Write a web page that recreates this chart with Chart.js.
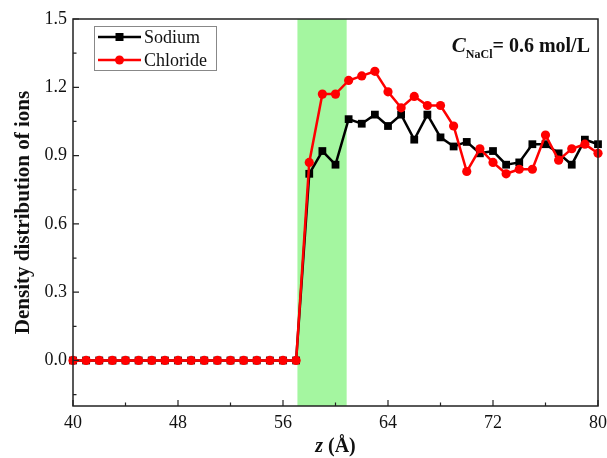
<!DOCTYPE html>
<html>
<head>
<meta charset="utf-8">
<script src="https://cdn.jsdelivr.net/npm/chart.js@4.4.1/dist/chart.umd.min.js"></script>
<style>
  html, body { margin: 0; padding: 0; background: #fff; }
  #wrap { width: 607px; height: 458px; }
</style>
</head>
<body>
<div id="wrap"><canvas id="chart"></canvas></div>
<script>
// z positions (Å)
const zValues = [40, 41, 42, 43, 44, 45, 46, 47, 48, 49, 50, 51, 52, 53, 54, 55, 56, 57,
                 58, 59, 60, 61, 62, 63, 64, 65, 66, 67, 68, 69, 70, 71, 72, 73, 74, 75, 76, 77, 78, 79, 80];

// density
const sodium = [0, 0, 0, 0, 0, 0, 0, 0, 0, 0, 0, 0, 0, 0, 0, 0, 0, 0,
                0.82, 0.92, 0.86, 1.06, 1.04, 1.08, 1.03, 1.08, 0.97, 1.08, 0.98, 0.94,
                0.96, 0.91, 0.92, 0.86, 0.87, 0.95, 0.95, 0.91, 0.86, 0.97, 0.95];
const chloride = [0, 0, 0, 0, 0, 0, 0, 0, 0, 0, 0, 0, 0, 0, 0, 0, 0, 0,
                  0.87, 1.17, 1.17, 1.23, 1.25, 1.27, 1.18, 1.11, 1.16, 1.12, 1.12, 1.03,
                  0.83, 0.93, 0.87, 0.82, 0.84, 0.84, 0.99, 0.88, 0.93, 0.95, 0.91];

// shaded region
const band = [57.1, 60.85];

// axis ticks
const xTicks = [40, 48, 56, 64, 72, 80];
const xMinor = [44, 52, 60, 68, 76];
const yTicks = [0, 0.3, 0.6, 0.9, 1.2, 1.5];
const yMinor = [-0.15, 0.15, 0.45, 0.75, 1.05, 1.35];

const SERIF = '"Liberation Serif", "Times New Roman", serif';

const toPoints = arr => arr.map((v, i) => ({ x: zValues[i], y: v }));

// green band behind the lines
const bandPlugin = {
    id: 'band',
    beforeDatasetsDraw(chart) {
        const { ctx, chartArea, scales } = chart;
        const x0 = scales.x.getPixelForValue(band[0]);
        const x1 = scales.x.getPixelForValue(band[1]);
        ctx.save();
        ctx.fillStyle = '#a4f6a0';
        ctx.fillRect(x0, chartArea.top, x1 - x0, chartArea.bottom - chartArea.top);
        ctx.restore();
    }
};

// frame, inward ticks, legend, annotation, x title
const decorPlugin = {
    id: 'decor',
    afterDraw(chart) {
        const { ctx, chartArea, scales } = chart;
        const { left, right, top, bottom } = chartArea;
        ctx.save();

        // frame
        ctx.strokeStyle = '#222';
        ctx.lineWidth = 1.5;
        ctx.strokeRect(left, top, right - left, bottom - top);

        // inward ticks
        ctx.lineWidth = 1.2;
        ctx.beginPath();
        xTicks.forEach(v => { const p = scales.x.getPixelForValue(v); ctx.moveTo(p, bottom); ctx.lineTo(p, bottom - 6); });
        xMinor.forEach(v => { const p = scales.x.getPixelForValue(v); ctx.moveTo(p, bottom); ctx.lineTo(p, bottom - 3.5); });
        yTicks.forEach(v => { const p = scales.y.getPixelForValue(v); ctx.moveTo(left, p); ctx.lineTo(left + 6, p); });
        yMinor.forEach(v => { const p = scales.y.getPixelForValue(v); ctx.moveTo(left, p); ctx.lineTo(left + 3.5, p); });
        ctx.stroke();

        // legend
        const lx = 94, ly = 26;
        ctx.strokeStyle = '#888';
        ctx.lineWidth = 1;
        ctx.strokeRect(lx + 0.5, ly + 0.5, 122, 44);
        chart.data.datasets.forEach((ds, i) => {
            const y = ly + 11 + i * 23;
            ctx.strokeStyle = ds.borderColor;
            ctx.lineWidth = 2.5;
            ctx.beginPath();
            ctx.moveTo(lx + 4, y);
            ctx.lineTo(lx + 47, y);
            ctx.stroke();
            ctx.fillStyle = ds.borderColor;
            ctx.beginPath();
            if (ds.pointStyle === 'rect') {
                ctx.rect(lx + 25.5 - 4, y - 4, 8, 8);
            } else {
                ctx.arc(lx + 25.5, y, 4.5, 0, Math.PI * 2);
            }
            ctx.fill();
            ctx.fillStyle = '#111';
            ctx.font = '18px ' + SERIF;
            ctx.textBaseline = 'middle';
            ctx.textAlign = 'left';
            ctx.fillText(ds.label, lx + 50, y + 1);
        });

        // C_NaCl = 0.6 mol/L
        ctx.fillStyle = '#111';
        ctx.textBaseline = 'alphabetic';
        const mainTxt = '= 0.6 mol/L';
        ctx.font = 'bold 20px ' + SERIF;
        const wMain = ctx.measureText(mainTxt).width;
        ctx.font = 'bold 12px ' + SERIF;
        const wSub = ctx.measureText('NaCl').width;
        ctx.font = 'italic bold 21px ' + SERIF;
        const wC = ctx.measureText('C').width;
        let ax = 590 - wMain - wSub - wC;
        const base = 52;
        ctx.fillText('C', ax, base);
        ax += wC;
        ctx.font = 'bold 12px ' + SERIF;
        ctx.fillText('NaCl', ax, base + 6);
        ax += wSub;
        ctx.font = 'bold 20px ' + SERIF;
        ctx.fillText(mainTxt, ax, base);

        // x axis title: z (Å)
        ctx.font = 'italic bold 20px ' + SERIF;
        const wz = ctx.measureText('z').width;
        ctx.font = 'bold 20px ' + SERIF;
        const wr = ctx.measureText(' (Å)').width;
        let tx = (left + right) / 2 - (wz + wr) / 2;
        const ty = 452;
        ctx.font = 'italic bold 20px ' + SERIF;
        ctx.fillText('z', tx, ty);
        ctx.font = 'bold 20px ' + SERIF;
        ctx.fillText(' (Å)', tx + wz, ty);

        ctx.restore();
    }
};

new Chart(document.getElementById('chart'), {
    type: 'line',
    data: {
        datasets: [
            {
                label: 'Sodium',
                data: toPoints(sodium),
                borderColor: '#000000',
                backgroundColor: '#000000',
                borderWidth: 2.5,
                pointStyle: 'rect',
                pointRadius: 5.5,
                pointBorderWidth: 0,
                tension: 0,
                clip: false,
                order: 1
            },
            {
                label: 'Chloride',
                data: toPoints(chloride),
                borderColor: '#ff0000',
                backgroundColor: '#ff0000',
                borderWidth: 2.5,
                pointStyle: 'circle',
                pointRadius: 4.6,
                pointBorderWidth: 0,
                tension: 0,
                clip: false,
                order: 0
            }
        ]
    },
    options: {
        responsive: true,
        maintainAspectRatio: false,
        animation: false,
        layout: { padding: { top: 19, right: 9, left: 0, bottom: 0 } },
        plugins: {
            legend: { display: false },
            tooltip: { enabled: false }
        },
        scales: {
            x: {
                type: 'linear',
                min: 40,
                max: 80,
                afterBuildTicks: axis => { axis.ticks = xTicks.map(v => ({ value: v })); },
                afterFit: axis => {
                    axis.height = 52;
                    axis.paddingLeft = 0;
                    axis.paddingRight = 0;
                },
                grid: { display: false, drawTicks: false },
                border: { display: false },
                ticks: {
                    padding: 6,
                    color: '#111',
                    maxRotation: 0,
                    font: { family: SERIF, size: 18 }
                }
            },
            y: {
                min: -0.2,
                max: 1.5,
                afterBuildTicks: axis => { axis.ticks = yTicks.map(v => ({ value: v })); },
                afterFit: axis => { axis.width = 73; },
                grid: { display: false, drawTicks: false },
                border: { display: false },
                ticks: {
                    padding: 6,
                    color: '#111',
                    font: { family: SERIF, size: 18 },
                    callback: v => Number(v).toFixed(1)
                },
                title: {
                    display: true,
                    text: 'Density distribution of ions',
                    color: '#111',
                    padding: { top: 11, bottom: 0 },
                    font: { family: SERIF, size: 21, weight: 'bold' }
                }
            }
        }
    },
    plugins: [bandPlugin, decorPlugin]
});
</script>
</body>
</html>
